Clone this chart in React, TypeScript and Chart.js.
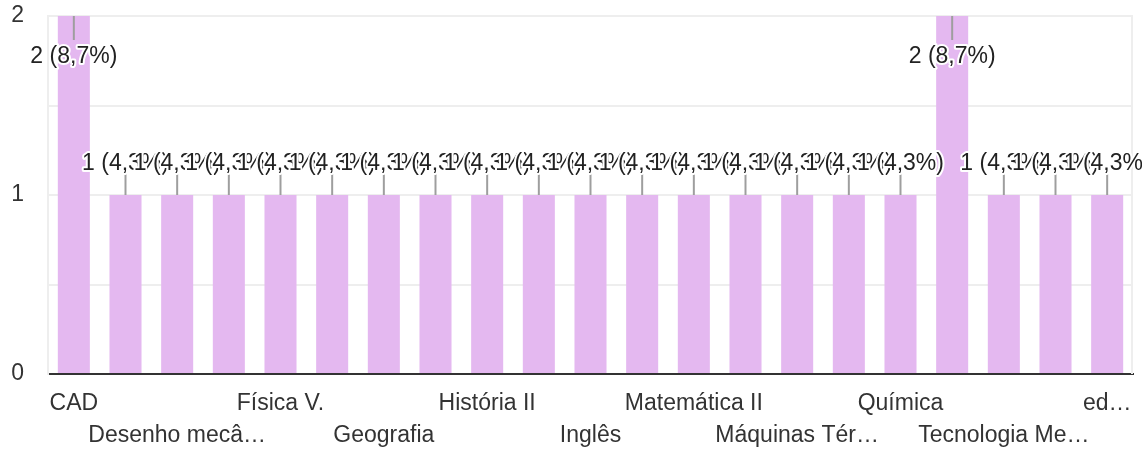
import React, { useEffect, useRef } from 'react';
import { Chart, registerables } from 'chart.js';

Chart.register(...registerables);

const categories = [
  'CAD', 'Desenho', 'Desenho mecâ…', 'Eletricidade', 'Física V.', 'Física VI', 'Geografia',
  'História', 'História II', 'Indústria', 'Inglês', 'Matemática', 'Matemática II', 'Mecânica',
  'Máquinas Tér…', 'Português', 'Química', 'Resistência dos Materiais', 'Tecnologia Me…',
  'Topografia', 'ed…',
];
const counts = [2, 1, 1, 1, 1, 1, 1, 1, 1, 1, 1, 1, 1, 1, 1, 1, 1, 2, 1, 1, 1];
const yTickValues = [0, 1, 2];

const FONT = '"Liberation Sans", Arial, sans-serif';
const FONT_SIZE = 23;

const dataLabelPlugin = {
  id: 'dataLabels',
  afterDatasetsDraw(chart: any) {
    const { ctx, chartArea } = chart;
    const meta = chart.getDatasetMeta(0);
    const total = counts.reduce((a, b) => a + b, 0);
    const items = meta.data.map((bar: any, i: number) => {
      const v = counts[i];
      const top = bar.y;
      const above = top - 45 >= chartArea.top;
      const pct = ((v / total) * 100).toFixed(1).replace('.', ',');
      return { x: bar.x, top, above, text: `${v} (${pct}%)` };
    });
    ctx.save();
    ctx.strokeStyle = '#9e9e9e';
    ctx.lineWidth = 2;
    items.forEach((it: any) => {
      ctx.beginPath();
      if (it.above) {
        ctx.moveTo(it.x, it.top - 21);
        ctx.lineTo(it.x, it.top);
      } else {
        ctx.moveTo(it.x, it.top);
        ctx.lineTo(it.x, it.top + 24);
      }
      ctx.stroke();
    });
    ctx.font = `${FONT_SIZE}px ${FONT}`;
    ctx.textAlign = 'center';
    ctx.textBaseline = 'middle';
    ctx.lineJoin = 'round';
    items.forEach((it: any) => {
      const y = it.above ? it.top - 31 : it.top + 41;
      ctx.strokeStyle = '#ffffff';
      ctx.lineWidth = 4;
      ctx.strokeText(it.text, it.x, y);
      ctx.fillStyle = '#222222';
      ctx.fillText(it.text, it.x, y);
    });
    ctx.restore();
  },
};

const rightBorderPlugin = {
  id: 'rightBorder',
  beforeDatasetsDraw(chart: any) {
    const { ctx, chartArea } = chart;
    ctx.save();
    ctx.strokeStyle = '#eeeeee';
    ctx.lineWidth = 2;
    ctx.beginPath();
    ctx.moveTo(chartArea.right - 1, chartArea.top - 1);
    ctx.lineTo(chartArea.right - 1, chartArea.bottom);
    ctx.stroke();
    ctx.restore();
  },
};

export default function App() {
  const ref = useRef<HTMLCanvasElement | null>(null);

  useEffect(() => {
    if (!ref.current) return;
    const chart = new Chart(ref.current, {
      type: 'bar',
      data: {
        labels: categories,
        datasets: [
          {
            data: counts,
            backgroundColor: 'rgb(228,184,240)',
            barPercentage: 0.62,
            categoryPercentage: 1,
          },
        ],
      },
      options: {
        animation: false,
        responsive: false,
        layout: { padding: { top: 16, right: 9, left: 0, bottom: 0 } },
        plugins: { legend: { display: false }, tooltip: { enabled: false } },
        scales: {
          x: {
            grid: { display: false },
            border: { display: true, color: '#333333', width: 2 },
            ticks: {
              autoSkip: false,
              maxRotation: 0,
              minRotation: 0,
              padding: 6,
              color: '#333333',
              font: { family: FONT, size: FONT_SIZE, lineHeight: 1.38 },
              callback: (_v: any, i: number) => {
                const label = categories[i];
                if (i % 4 === 0) return label;
                if (i % 4 === 2) return ['', label];
                return '';
              },
            },
            afterFit: (scale: any) => {
              scale.height = 77;
              scale.paddingLeft = 0;
              scale.paddingRight = 0;
            },
          },
          y: {
            min: 0,
            max: 2,
            afterBuildTicks: (scale: any) => {
              const vals: number[] = [];
              for (let i = 0; i < yTickValues.length; i++) {
                vals.push(yTickValues[i]);
                if (i < yTickValues.length - 1) vals.push((yTickValues[i] + yTickValues[i + 1]) / 2);
              }
              scale.ticks = vals.sort((a, b) => a - b).map((v) => ({ value: v }));
            },
            grid: {
              drawTicks: false,
              lineWidth: 2,
              color: (c: any) => (c.tick && c.tick.value === 0 ? 'rgba(0,0,0,0)' : '#eeeeee'),
            },
            border: { display: true, color: '#eeeeee', width: 2 },
            ticks: {
              padding: 24,
              color: '#333333',
              font: { family: FONT, size: FONT_SIZE },
              callback: (v: any) => (yTickValues.includes(Number(v)) ? String(v) : ''),
            },
            afterFit: (scale: any) => {
              scale.width = 48;
              scale.paddingTop = 0;
              scale.paddingBottom = 0;
            },
          },
        },
      },
      plugins: [rightBorderPlugin, dataLabelPlugin],
    });
    return () => chart.destroy();
  }, []);

  return (
    <div style={{ position: 'absolute', left: 0, top: 0, width: 1142, height: 451 }}>
      <canvas ref={ref} width={1142} height={451} />
    </div>
  );
}
